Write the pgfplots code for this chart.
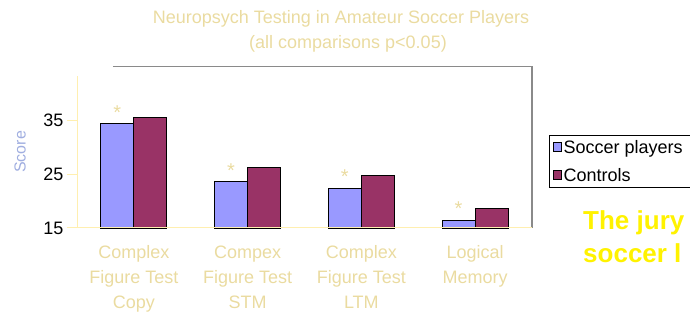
\documentclass[border=0pt]{standalone}
\usepackage{pgfplots}
\pgfplotsset{compat=1.18}
\usepackage{fontspec}
\setmainfont{Liberation Sans}
\definecolor{pale}{HTML}{EADBA0}
\definecolor{axyel}{HTML}{FFEFB0}
\definecolor{framegray}{HTML}{8A8A8A}
\definecolor{barblue}{HTML}{9999FF}
\definecolor{barred}{HTML}{993366}
\definecolor{scorecol}{HTML}{A0AEE0}
\begin{document}
\begin{tikzpicture}[x=1pt,y=1pt]
\path[use as bounding box] (0,0) rectangle (690,315);
\node[text=pale, font=\fontsize{18}{20}\selectfont] at (341,296) {Neuropsych Testing in Amateur Soccer Players};
\node[text=pale, font=\fontsize{18}{20}\selectfont] at (348,271) {(all comparisons p<0.05)};
\node[text=scorecol, rotate=90, font=\fontsize{16}{18}\selectfont] at (20,163) {Score};
\node[text=yellow, anchor=base west, font=\fontsize{26}{30}\bfseries\selectfont, inner sep=0] at (583,85) {The jury};
\node[text=yellow, anchor=base west, font=\fontsize{26}{30}\bfseries\selectfont, inner sep=0] at (583,52) {soccer l};
\begin{axis}[
  at={(77pt,87pt)}, anchor=south west,
  scale only axis, width=455pt, height=152pt,
  xmin=-0.5, xmax=3.5, ymin=15, ymax=43.3,
  clip=false, axis on top,
  ybar=0pt, bar width=33pt,
  axis x line*=bottom, axis y line*=left,
  axis line style={draw=axyel, line width=1pt, -},
  tick align=outside,
  xtick={0,1,2,3},
  xticklabels={{Complex\\Figure Test\\Copy},{Compex\\Figure Test\\STM},{Complex\\Figure Test\\LTM},{Logical\\Memory}},
  major x tick style={draw=none},
  extra x ticks={-0.5,0.5,1.5,2.5,3.5},
  extra x tick labels={},
  extra x tick style={major tick length=8pt, tick style={draw=axyel, line width=1pt}},
  xticklabel style={align=center, text=pale, font=\fontsize{18}{25}\selectfont, yshift=-4pt},
  ytick={15,25,35},
  y tick style={draw=axyel, line width=1pt},
  major tick length=10pt,
  yticklabel style={text=black, font=\fontsize{18}{20}\selectfont},
  /pgf/number format/assume math mode=true,
  legend style={at={(1,1)}, anchor=north west, xshift=17pt, yshift=-59pt,
    draw=black, line width=1.2pt, font=\fontsize{18}{20}\selectfont,
    inner sep=3pt, row sep=9pt, cells={anchor=west}, legend cell align=left},
  legend image code/.code={\draw[#1, line width=1pt] (0pt,-4pt) rectangle (8pt,5pt);},
]
\addplot[fill=barblue, draw=black, line width=1.2pt,
  nodes near coords={*}, every node near coord/.append style={text=pale, font=\fontsize{20}{22}\selectfont, inner sep=0pt, yshift=4pt}]
  coordinates {(0,34.4) (1,23.6) (2,22.4) (3,16.4)};
\addplot[fill=barred, draw=black, line width=1.2pt]
  coordinates {(0,35.5) (1,26.3) (2,24.7) (3,18.7)};
\legend{Soccer players\rule{14pt}{0pt}, Controls}
\draw[framegray, line width=1.2pt] (axis cs:-0.184,45) -- (axis cs:3.5,45) -- (axis cs:3.5,15);
\end{axis}
\end{tikzpicture}
\end{document}
